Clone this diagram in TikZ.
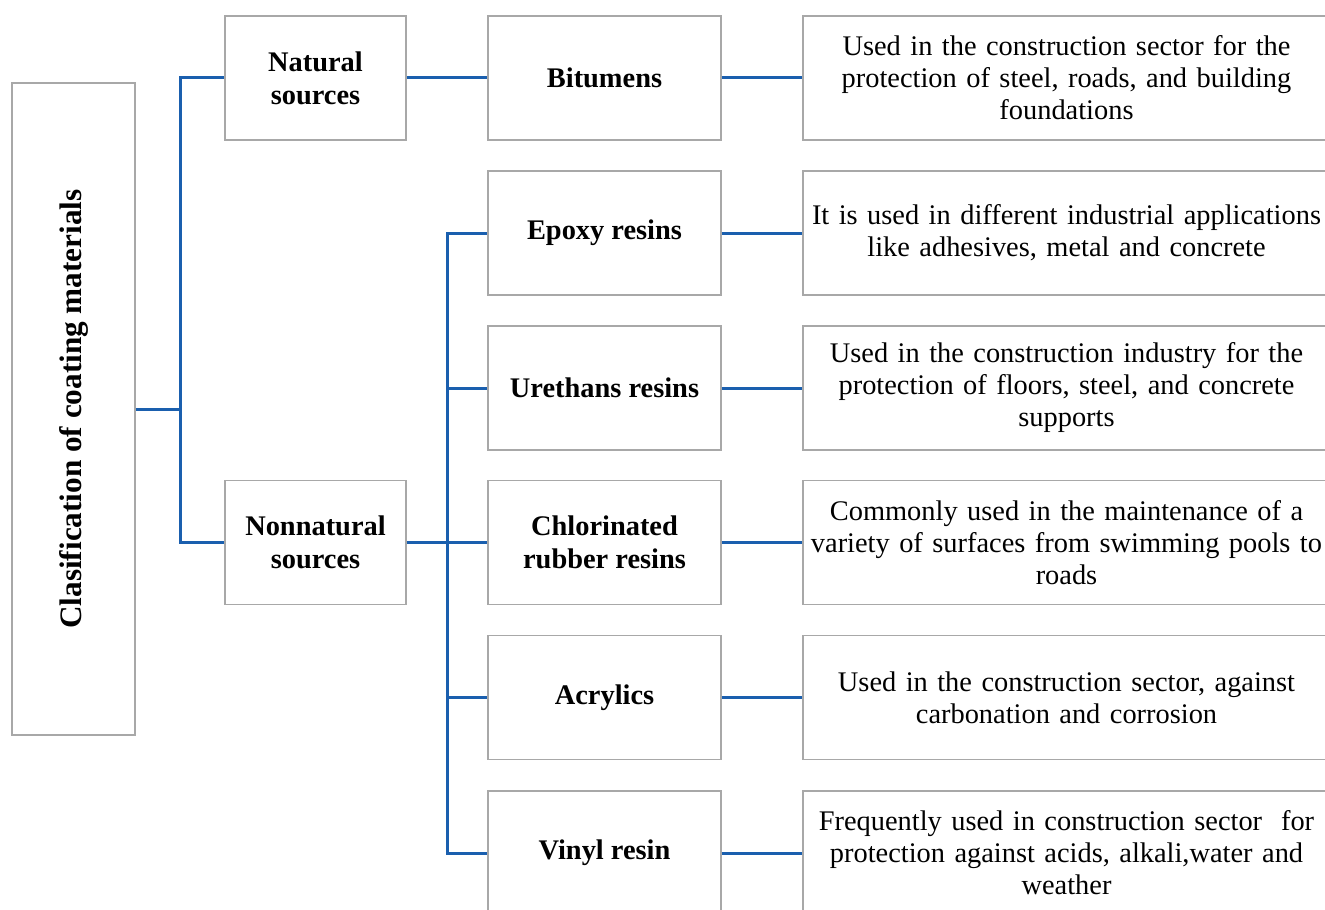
\documentclass[tikz,border=0pt]{standalone}
\usepackage{fontspec}
\setmainfont{Liberation Serif}
\definecolor{linkblue}{HTML}{1A5FAE}
\definecolor{boxgray}{HTML}{A8A8A8}
\begin{document}
\begin{tikzpicture}[x=0.5pt,y=-0.5pt,
  box/.style={draw=boxgray,line width=0.6pt,inner sep=0pt,align=center,fill=white},
  srcbox/.style={box,minimum width=90.5pt,minimum height=62pt,font=\fontsize{14.2}{16.5}\selectfont\bfseries},
  midbox/.style={box,minimum width=116.5pt,minimum height=62pt,font=\fontsize{14.2}{16.5}\selectfont\bfseries},
  descbox/.style={box,minimum width=263.5pt,minimum height=62pt,text width=262pt,font=\fontsize{14.2}{16}\selectfont},
  link/.style={draw=linkblue,line width=1.5pt}]
\useasboundingbox (0,0) rectangle (1325,909);
\begin{scope}
\clip (0,0) rectangle (1325,909);
\node[box,minimum width=61.5pt,minimum height=326pt] (title) at (73.5,409) {};
\node[rotate=90,font=\fontsize{15.6}{16}\selectfont\bfseries] at (title.center) {Clasification of coating materials};
\node[srcbox] (nat) at (315.5,78) {Natural\\sources};
\node[srcbox] (non) at (315.5,542.5) {Nonnatural\\sources};
\node[midbox] (m1) at (604.5,78) {Bitumens};
\node[midbox] (m2) at (604.5,233) {Epoxy resins};
\node[midbox] (m3) at (604.5,388) {Urethans resins};
\node[midbox] (m4) at (604.5,542.5) {Chlorinated\\rubber resins};
\node[midbox] (m5) at (604.5,697.5) {Acrylics};
\node[midbox] (m6) at (604.5,853) {Vinyl resin};
\node[descbox] (d1) at (1066.5,78) {Used in the construction sector for the\\protection of steel, roads, and building\\foundations};
\node[descbox] (d2) at (1066.5,233) {It is used in different industrial applications\\like adhesives, metal and concrete};
\node[descbox] (d3) at (1066.5,388) {Used in the construction industry for the\\protection of floors, steel, and concrete\\supports};
\node[descbox] (d4) at (1066.5,542.5) {Commonly used in the maintenance of a\\variety of surfaces from swimming pools to\\roads};
\node[descbox] (d5) at (1066.5,697.5) {Used in the construction sector, against\\carbonation and corrosion};
\node[descbox] (d6) at (1066.5,853) {Frequently used in construction sector\ \ for\\protection against acids, alkali,water and\\weather};
\coordinate (j1) at (180,409);
\coordinate (j2) at (447,542.5);
\draw[link] (title.east) -- (j1);
\draw[link] (j1) |- (nat.west);
\draw[link] (j1) |- (non.west);
\draw[link] (nat.east) -- (m1.west);
\draw[link] (non.east) -- (j2);
\foreach \m in {m2,m3,m4,m5,m6} {\draw[link] (j2) |- (\m.west);}
\foreach \i in {1,...,6} {\draw[link] (m\i.east) -- (d\i.west);}
\end{scope}
\end{tikzpicture}
\end{document}
